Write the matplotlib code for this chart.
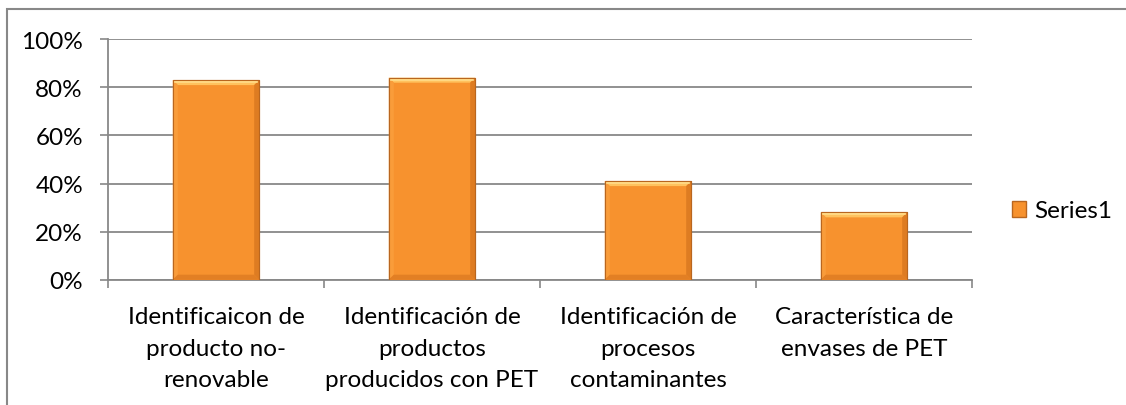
import numpy as np
import matplotlib.pyplot as plt
from matplotlib.patches import Polygon, Patch, Rectangle
from matplotlib.ticker import PercentFormatter

categorias = ['Identificaicon de\nproducto no-\nrenovable',
              'Identificación de\nproductos\nproducidos con PET',
              'Identificación de\nprocesos\ncontaminantes',
              'Característica de\nenvases de PET']
valores = [0.83, 0.84, 0.41, 0.28]
ticks_y = [0, 0.2, 0.4, 0.6, 0.8, 1.0]
serie = 'Series1'

plt.rcParams['font.family'] = ['Lato', 'DejaVu Sans']
gris = '#888888'
fs = 17.5

W, H = 1126, 406
fig = plt.figure(figsize=(W / 100, H / 100), dpi=100)
ax = fig.add_axes([108 / W, 125.3 / H, 864 / W, 240.5 / H])

x = np.arange(len(valores))
ancho = 0.4
ax.bar(x, valores, width=ancho, color='#F7922E', edgecolor='#B9661F',
       linewidth=0.8, zorder=3)

# biselado de cada barra (en pixeles -> unidades de datos)
px_x = 4 / 864
px_y = 1 / 240.5
b = 5
bx, by = b * px_x, b * px_y
for xi, v in zip(x, valores):
    x0, x1 = xi - ancho / 2, xi + ancho / 2
    y0, y1 = 0, v
    caras = [
        ([(x0, y1), (x1, y1), (x1 - bx, y1 - by), (x0 + bx, y1 - by)], '#FFC25E'),
        ([(x0, y0), (x0, y1), (x0 + bx, y1 - by), (x0 + bx, y0 + by)], '#F99C3A'),
        ([(x1, y0), (x1, y1), (x1 - bx, y1 - by), (x1 - bx, y0 + by)], '#DE7C22'),
        ([(x0, y0), (x1, y0), (x1 - bx, y0 + by), (x0 + bx, y0 + by)], '#E27F24'),
    ]
    for pts, c in caras:
        ax.add_patch(Polygon(pts, closed=True, facecolor=c, edgecolor='none', zorder=4))
    ax.add_patch(Rectangle((x0, y0), ancho, v, fill=False, edgecolor='#B9661F',
                           linewidth=0.8, zorder=5))
    ax.plot([x0 + bx * 0.4, x1 - bx * 0.4], [y1 - by * 0.4] * 2, color='#FFDC8A',
            linewidth=1.2, zorder=5)

ax.set_xlim(-0.5, 3.5)
ax.set_ylim(0, 1)
ax.set_yticks(ticks_y)
ax.yaxis.set_major_formatter(PercentFormatter(1.0, decimals=0))
ax.set_xticks(x)
ax.set_xticklabels(categorias, fontsize=fs, linespacing=1.62)
ax.set_xticks(np.arange(-0.5, 4, 1), minor=True)
ax.tick_params(axis='x', which='major', length=0, pad=19)
ax.tick_params(axis='x', which='minor', length=6, width=1.2, color=gris, direction='out')
ax.tick_params(axis='y', length=6, width=1.2, color=gris, labelsize=fs, pad=12)

ax.grid(axis='y', color=gris, linewidth=1.3, zorder=0)
ax.set_axisbelow(True)
for s in ['top', 'right']:
    ax.spines[s].set_visible(False)
for s in ['left', 'bottom']:
    ax.spines[s].set_color(gris)
    ax.spines[s].set_linewidth(1.3)

fig.legend(handles=[Patch(facecolor='#F7922E', edgecolor='#B9661F', label=serie)],
           loc='center left', bbox_to_anchor=(990 / W, 1 - 212 / H), frameon=False,
           fontsize=fs, handlelength=0.6, handleheight=0.6, handletextpad=0.3)

# borde del area del grafico
fig.add_artist(Rectangle((7 / W, -0.1), 1.2, 1.1 - 10 / H, transform=fig.transFigure,
                         fill=False, edgecolor=gris, linewidth=1.5))

fig.savefig('out.png', dpi=100)
